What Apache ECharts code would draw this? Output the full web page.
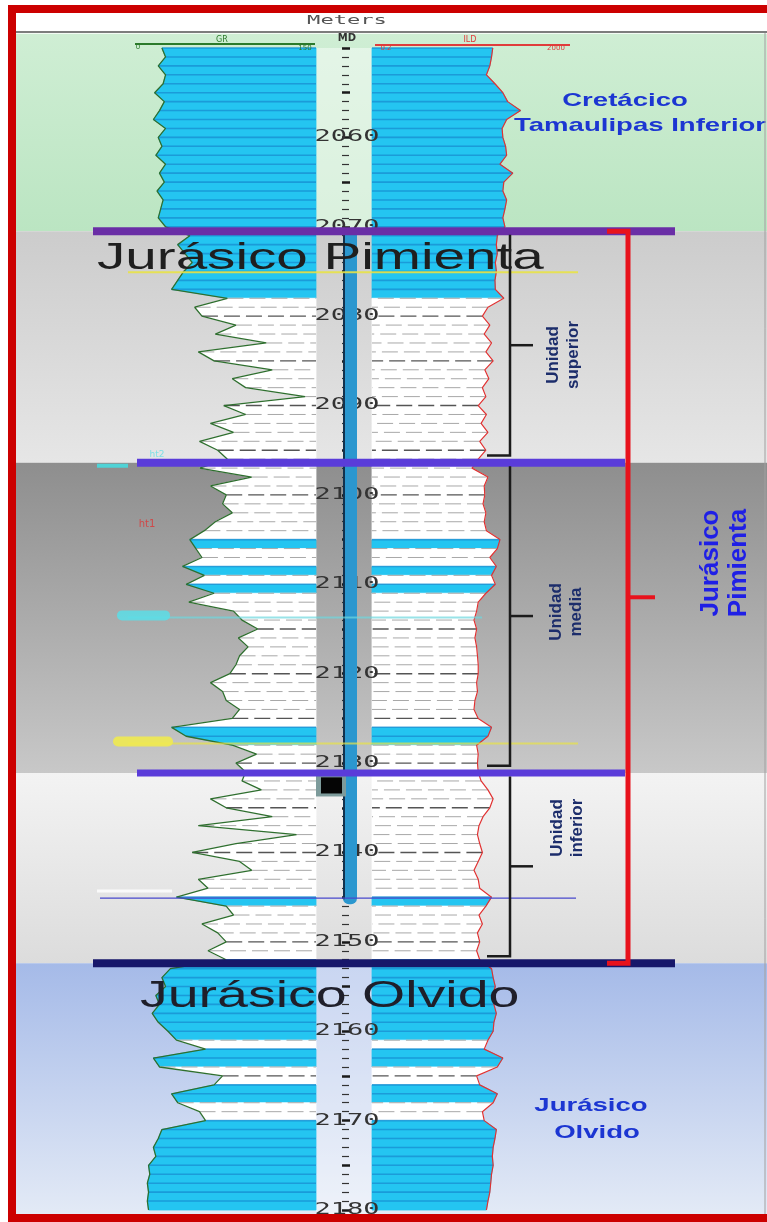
<!DOCTYPE html>
<html>
<head>
<meta charset="utf-8">
<title>Jurásico Pimienta - registro de pozo</title>
<script src="https://cdn.jsdelivr.net/npm/echarts@6/dist/echarts.min.js"></script>
<style>
  html, body { margin: 0; padding: 0; background: #fff; }
  #main { width: 767px; height: 1222px; }
</style>
</head>
<body>
<div id="main"></div>
<script>
// profundidad (m MD), una muestra por metro desde depthTop
var depthTop = 2050;
var depthBottom = 2180;

// GR (API) 2050 ... 2180
var gr = [
  23, 26, 20, 26, 24, 17, 25, 21, 16, 26,
  20, 23, 18, 26, 21, 25, 19, 24, 22, 20,
  26, 46, 36, 42, 48, 41, 36, 31, 77, 50,
  56, 84, 67, 109, 53, 66, 114, 81, 92, 141,
  74, 92, 63, 82, 54, 69, 77, 54, 97, 63,
  76, 73, 81, 67, 58, 46, 51, 56, 40, 58,
  43, 66, 45, 82, 89, 102, 86, 94, 87, 84,
  79, 63, 73, 76, 87, 81, 31, 43, 81, 101,
  84, 92, 89, 105, 63, 76, 114, 53, 134, 84,
  48, 87, 97, 53, 61, 35, 76, 82, 56, 69,
  76, 61, 76, 30, 23, 26, 18, 21, 15, 20,
  28, 35, 59, 16, 21, 73, 66, 31, 36, 54,
  59, 23, 20, 16, 18, 12, 13, 11, 12, 11,
  12
];

// ILD (ohm.m) 2050 ... 2180
var ild = [
  55, 52, 48, 41, 61, 88, 110, 200, 105, 85,
  88, 100, 105, 77, 140, 92, 88, 105, 97, 88,
  97, 68, 65, 68, 62, 65, 61, 62, 92, 44,
  34, 48, 37, 52, 40, 56, 38, 46, 34, 40,
  28, 41, 32, 44, 30, 40, 28, 21, 44, 37,
  38, 35, 40, 37, 41, 77, 68, 48, 65, 52,
  62, 40, 28, 26, 23, 26, 24, 26, 27, 28,
  28, 26, 27, 24, 23, 28, 52, 44, 26, 28,
  27, 28, 32, 44, 56, 48, 35, 29, 27, 30,
  34, 28, 23, 28, 30, 52, 40, 29, 34, 27,
  30, 26, 30, 52, 56, 62, 54, 58, 65, 58,
  56, 44, 37, 88, 68, 26, 30, 68, 56, 34,
  37, 65, 61, 56, 54, 56, 52, 50, 48, 44,
  41
];

// intervalos de caliza (relleno cian), el resto lutita (blanco)
var caliza = [
  [2050, 2078], [2105, 2106], [2108, 2109], [2110, 2111], [2126, 2128],
  [2145, 2146], [2152, 2161], [2162, 2164], [2166, 2168], [2170, 2180]
];

var formaciones = ['Cretácico Tamaulipas Inferior', 'Unidad superior', 'Unidad media', 'Unidad inferior', 'Jurásico Olvido'];
var formTop = [2048.4, 2070.5, 2096.4, 2131.1, 2152.4];
var formBase = [2070.5, 2096.4, 2131.1, 2152.4, 2180.5];

var unidades = ['Unidad\nsuperior', 'Unidad\nmedia', 'Unidad\ninferior'];
var unidadTop = [2070.5, 2096.4, 2131.1];
var unidadBase = [2096.4, 2131.1, 2152.4];

var topes = [2070.5, 2096.4, 2131.1, 2152.4];
var marcadores = [2075.1, 2113.7, 2127.8, 2144.3, 2145.1];
var nucleo = [2070.5, 2145.8];
var marcaNegra = [2131.6, 2133.4];
var depthLabels = [2060, 2070, 2080, 2090, 2100, 2110, 2120, 2130, 2140, 2150, 2160, 2170, 2180];

// ---- estilos / layout ----
var TOP = 48, H = 1162;
var trkGR = { left: 134, width: 182 };
var trkDepth = { left: 316, width: 56 };
var trkILD = { left: 372, width: 198 };
var CYAN = '#24c5f1';

var bandStyle = [
  ['#cfeed4', '#bbe5c2', 0.45],
  ['#cccccc', '#e6e6e6', 0],
  ['#8e8e8e', '#c8c8c8', 0],
  ['#f3f3f3', '#dcdcdc', 0],
  ['#a5bae8', '#e3eaf6', 0.4]
];
var topeStyle = [
  { x1: 93, x2: 675, color: '#6a2ea6', width: 8 },
  { x1: 137, x2: 625, color: '#5a3cd9', width: 8, pre: [97, 128, '#4fd3d6'] },
  { x1: 137, x2: 625, color: '#5a3cd9', width: 7 },
  { x1: 93, x2: 675, color: '#17176a', width: 8 }
];
var marcaStyle = [
  { x1: 128, x2: 578, color: 'rgba(232,226,70,0.9)', width: 2 },
  { x1: 128, x2: 482, color: 'rgba(110,215,222,0.7)', width: 2, blob: [122, 165, 'rgba(90,222,232,0.85)'] },
  { x1: 128, x2: 578, color: 'rgba(232,226,70,0.7)', width: 2, blob: [118, 168, 'rgba(240,234,80,0.9)'] },
  { x1: 97, x2: 172, color: 'rgba(252,252,252,0.9)', width: 3 },
  { x1: 100, x2: 576, color: '#4848cc', width: 1.2 }
];
var unidadPos = [[563, 355], [566, 612], [567, 828]];

var depth = gr.map(function (v, i) { return depthTop + i; });

function esCaliza(d) {
  for (var k = 0; k < caliza.length; k++) {
    if (d >= caliza[k][0] && d <= caliza[k][1]) return 1;
  }
  return 0;
}

function tramos(vals) {
  var out = [];
  for (var i = 0; i < vals.length - 1; i++) {
    out.push([depth[i], vals[i], depth[i + 1], vals[i + 1], esCaliza(depth[i] + 0.5)]);
  }
  return out;
}

// texto compatible (align / textAlign)
function ts(o) {
  if (o.align) o.textAlign = o.align;
  if (o.verticalAlign) o.textVerticalAlign = o.verticalAlign;
  if (o.fill) o.textFill = o.fill;
  return o;
}

function yOf(api, d) { return api.coord([0, d])[1]; }

function renderBand(params, api) {
  var cs = params.coordSys;
  var st = bandStyle[api.value(2)];
  var y0 = yOf(api, api.value(0)), y1 = yOf(api, api.value(1));
  var kids = [{
    type: 'rect',
    shape: { x: cs.x, y: y0, width: cs.width, height: y1 - y0 },
    style: { fill: { type: 'linear', x: 0, y: 0, x2: 0, y2: 1, colorStops: [{ offset: 0, color: st[0] }, { offset: 1, color: st[1] }] } }
  }];
  if (st[2]) {
    kids.push({
      type: 'rect',
      shape: { x: trkDepth.left, y: Math.max(y0, TOP), width: trkDepth.width, height: y1 - Math.max(y0, TOP) },
      style: { fill: 'rgba(255,255,255,' + st[2] + ')' }
    });
  }
  return { type: 'group', children: kids };
}

function makeFill(edgeRight) {
  return function (params, api) {
    var cs = params.coordSys;
    var p0 = api.coord([api.value(1), api.value(0)]);
    var p1 = api.coord([api.value(3), api.value(2)]);
    var ex = edgeRight ? cs.x + cs.width : cs.x;
    var lime = api.value(4) === 1;
    var col = lime ? CYAN : '#ffffff';
    var d0 = api.value(0);
    var kids = [{
      type: 'polygon',
      shape: { points: [p0, p1, [ex, p1[1]], [ex, p0[1]]] },
      style: { fill: col, stroke: col, lineWidth: 0.8 }
    }];
    kids.push({
      type: 'line',
      shape: { x1: p0[0], y1: p0[1], x2: ex, y2: p0[1] },
      style: lime
        ? { stroke: 'rgba(18,120,196,0.55)', lineWidth: 1.6 }
        : { stroke: d0 % 5 === 0 ? '#555' : '#a8a8a8', lineWidth: d0 % 5 === 0 ? 1.4 : 1, lineDash: [16, 6] }
    });
    return { type: 'group', children: kids };
  };
}

function renderDepthLabel(params, api) {
  var cs = params.coordSys;
  var d = api.value(0);
  return {
    type: 'text',
    x: cs.x + 31, y: yOf(api, d), scaleX: 1.8,
    style: ts({ text: String(d), font: '15px "DejaVu Sans Mono"', fill: '#333333', align: 'center', verticalAlign: 'middle' })
  };
}

function renderNucleo(params, api) {
  var cs = params.coordSys;
  var y0 = yOf(api, api.value(0)), y1 = yOf(api, api.value(1));
  var x = cs.x + 27, w = 14;
  return {
    type: 'group', children: [
      { type: 'rect', shape: { x: x, y: y0, width: w, height: y1 - y0, r: [0, 0, 6, 6] }, style: { fill: '#2b97cf' } },
      { type: 'line', shape: { x1: x + 1, y1: y0, x2: x + 1, y2: y1 - 5 }, style: { stroke: '#12324e', lineWidth: 2 } }
    ]
  };
}

function renderMarcaNegra(params, api) {
  var cs = params.coordSys;
  var y0 = yOf(api, api.value(0)), y1 = yOf(api, api.value(1));
  return {
    type: 'group', children: [
      { type: 'rect', shape: { x: cs.x, y: y0 - 3, width: 30, height: y1 - y0 + 6 }, style: { fill: '#7d9b9b' } },
      { type: 'rect', shape: { x: cs.x + 5, y: y0, width: 21, height: y1 - y0 }, style: { fill: '#050505' } }
    ]
  };
}

function renderMarcador(params, api) {
  var st = marcaStyle[params.dataIndex];
  var y = yOf(api, api.value(0));
  var kids = [{ type: 'line', shape: { x1: st.x1, y1: y, x2: st.x2, y2: y }, style: { stroke: st.color, lineWidth: st.width } }];
  if (st.blob) {
    kids.push({ type: 'line', shape: { x1: st.blob[0], y1: y - 2, x2: st.blob[1], y2: y - 2 }, style: { stroke: st.blob[2], lineWidth: 10, lineCap: 'round' } });
  }
  return { type: 'group', children: kids };
}

function renderTope(params, api) {
  var st = topeStyle[params.dataIndex];
  var y = yOf(api, api.value(0));
  var kids = [{ type: 'line', shape: { x1: st.x1, y1: y, x2: st.x2, y2: y }, style: { stroke: st.color, lineWidth: st.width } }];
  if (st.pre) {
    kids.push({ type: 'line', shape: { x1: st.pre[0], y1: y + 3, x2: st.pre[1], y2: y + 3 }, style: { stroke: st.pre[2], lineWidth: 4 } });
  }
  return { type: 'group', children: kids };
}

function renderLlave(params, api) {
  var y0 = yOf(api, api.value(0) + 0.4), y1 = yOf(api, api.value(1) - 0.8);
  var ym = (y0 + y1) / 2, x = 510;
  var s = { stroke: '#1b1b1b', lineWidth: 2.5, fill: 'none' };
  return {
    type: 'group', children: [
      { type: 'polyline', shape: { points: [[x, y0], [x, y1], [x - 23, y1]] }, style: s },
      { type: 'line', shape: { x1: x, y1: ym, x2: x + 23, y2: ym }, style: { stroke: '#1b1b1b', lineWidth: 2.5 } }
    ]
  };
}

function renderLlaveRoja(params, api) {
  var y0 = yOf(api, api.value(0)), y1 = yOf(api, api.value(1));
  var ym = (y0 + y1) / 2, x = 628;
  return {
    type: 'group', children: [
      { type: 'polyline', shape: { points: [[x - 21, y0], [x, y0], [x, y1], [x - 21, y1]] }, style: { stroke: '#e8121c', lineWidth: 5, fill: 'none' } },
      { type: 'line', shape: { x1: x, y1: ym, x2: x + 27, y2: ym }, style: { stroke: '#e8121c', lineWidth: 4 } }
    ]
  };
}

function mkY(gi, extra) {
  var y = { gridIndex: gi, type: 'value', inverse: true, min: depthTop, max: depthBottom, show: false };
  return Object.assign(y, extra || {});
}

var chart = echarts.init(document.getElementById('main'));

var textos = [
  // cabecera
  { type: 'rect', shape: { x: 16, y: 13, width: 751, height: 19 }, style: { fill: '#ffffff' }, z: 100 },
  { type: 'line', shape: { x1: 16, y1: 32, x2: 767, y2: 32 }, style: { stroke: '#7d7d7d', lineWidth: 2 }, z: 100 },
  { type: 'text', x: 347, y: 21, scaleX: 1.7, style: ts({ text: 'Meters', font: '13px "DejaVu Sans Mono"', fill: '#555', align: 'center', verticalAlign: 'middle' }), z: 101 },
  { type: 'text', x: 347, y: 38, style: ts({ text: 'MD', font: 'bold 10px "DejaVu Sans"', fill: '#333', align: 'center', verticalAlign: 'middle' }), z: 101 },
  { type: 'line', shape: { x1: 135, y1: 44, x2: 315, y2: 44 }, style: { stroke: '#2b7a2b', lineWidth: 2 }, z: 101 },
  { type: 'line', shape: { x1: 375, y1: 45, x2: 570, y2: 45 }, style: { stroke: '#e03c3c', lineWidth: 2 }, z: 101 },
  { type: 'text', x: 222, y: 40, style: ts({ text: 'GR', font: '8px "DejaVu Sans"', fill: '#2b7a2b', align: 'center', verticalAlign: 'middle' }), z: 101 },
  { type: 'text', x: 138, y: 47, style: ts({ text: '0', font: '7px "DejaVu Sans"', fill: '#2b7a2b', align: 'center', verticalAlign: 'middle' }), z: 101 },
  { type: 'text', x: 305, y: 48, style: ts({ text: '150', font: '7px "DejaVu Sans"', fill: '#2b7a2b', align: 'center', verticalAlign: 'middle' }), z: 101 },
  { type: 'text', x: 470, y: 40, style: ts({ text: 'ILD', font: '8px "DejaVu Sans"', fill: '#e03c3c', align: 'center', verticalAlign: 'middle' }), z: 101 },
  { type: 'text', x: 386, y: 48, style: ts({ text: '0.2', font: '7px "DejaVu Sans"', fill: '#e03c3c', align: 'center', verticalAlign: 'middle' }), z: 101 },
  { type: 'text', x: 556, y: 48, style: ts({ text: '2000', font: '7px "DejaVu Sans"', fill: '#e03c3c', align: 'center', verticalAlign: 'middle' }), z: 101 },
  // nombres grandes
  { type: 'text', x: 97, y: 259, scaleX: 1.53, style: ts({ text: 'Jurásico Pimienta', font: '37px "Liberation Sans"', fill: '#1f1f1f', align: 'left', verticalAlign: 'middle' }), z: 60 },
  { type: 'text', x: 140, y: 997, scaleX: 1.5, style: ts({ text: 'Jurásico Olvido', font: '37px "Liberation Sans"', fill: '#1f1f2a', align: 'left', verticalAlign: 'middle' }), z: 60 },
  // formaciones
  { type: 'text', x: 625, y: 101, scaleX: 1.45, style: ts({ text: 'Cretácico', font: 'bold 19px "Liberation Sans"', fill: '#1c36d2', align: 'center', verticalAlign: 'middle' }), z: 60 },
  { type: 'text', x: 514, y: 126, scaleX: 1.45, style: ts({ text: 'Tamaulipas Inferior', font: 'bold 19px "Liberation Sans"', fill: '#1c36d2', align: 'left', verticalAlign: 'middle' }), z: 60 },
  { type: 'text', x: 591, y: 1106, scaleX: 1.45, style: ts({ text: 'Jurásico', font: 'bold 19px "Liberation Sans"', fill: '#1c36d2', align: 'center', verticalAlign: 'middle' }), z: 60 },
  { type: 'text', x: 597, y: 1133, scaleX: 1.45, style: ts({ text: 'Olvido', font: 'bold 19px "Liberation Sans"', fill: '#1c36d2', align: 'center', verticalAlign: 'middle' }), z: 60 },
  { type: 'text', x: 725, y: 563, rotation: Math.PI / 2, style: ts({ text: 'Jurásico\nPimienta', font: 'bold 26px "Liberation Sans"', fill: '#1f1fe6', align: 'center', verticalAlign: 'middle', lineHeight: 28 }), z: 60 },
  { type: 'text', x: 147, y: 524, style: ts({ text: 'ht1', font: '10px "DejaVu Sans"', fill: '#d04848', align: 'center', verticalAlign: 'middle' }), z: 60 },
  { type: 'text', x: 157, y: 455, style: ts({ text: 'ht2', font: '9px "DejaVu Sans"', fill: '#7fe0e6', align: 'center', verticalAlign: 'middle' }), z: 60 },
  // borde
  { type: 'line', shape: { x1: 765, y1: 33, x2: 765, y2: 1214 }, style: { stroke: '#a0a0a0', lineWidth: 1 }, z: 100 },
  { type: 'rect', shape: { x: 12, y: 9, width: 800, height: 1209 }, style: { fill: 'none', stroke: '#cc0000', lineWidth: 8 }, z: 200 }
];
unidades.forEach(function (u, i) {
  textos.push({
    type: 'text', x: unidadPos[i][0], y: unidadPos[i][1], rotation: Math.PI / 2,
    style: ts({ text: u, font: 'bold 17px "Liberation Sans Narrow", "Liberation Sans"', fill: '#1c2d6b', align: 'center', verticalAlign: 'middle', lineHeight: 20 }),
    z: 60
  });
});

var option = {
  animation: false,
  backgroundColor: '#ffffff',
  grid: [
    { left: trkGR.left, width: trkGR.width, top: TOP, height: H },
    { left: trkDepth.left, width: trkDepth.width, top: TOP, height: H },
    { left: trkILD.left, width: trkILD.width, top: TOP, height: H },
    { left: 16, right: 0, top: TOP, height: H }
  ],
  xAxis: [
    { gridIndex: 0, type: 'value', min: 0, max: 150, show: false },
    { gridIndex: 1, type: 'value', min: 0, max: 1, show: false },
    { gridIndex: 2, type: 'log', min: 0.2, max: 2000, show: false },
    { gridIndex: 3, type: 'value', min: 0, max: 1, show: false }
  ],
  yAxis: [
    mkY(0),
    mkY(1, {
      show: true, position: 'left', offset: -26, interval: 5, z: 3,
      axisLine: { show: false },
      axisTick: { show: true, inside: true, length: 8, lineStyle: { color: '#1a1a1a', width: 2.5 } },
      minorTick: { show: true, splitNumber: 5, length: 7, lineStyle: { color: '#333', width: 1.2 } },
      axisLabel: { show: false },
      splitLine: { show: false }
    }),
    mkY(2),
    mkY(3)
  ],
  graphic: textos,
  series: [
    {
      type: 'custom', name: 'formaciones', xAxisIndex: 3, yAxisIndex: 3, z: 1, silent: true,
      data: formaciones.map(function (f, i) { return [formTop[i], formBase[i], i]; }),
      renderItem: renderBand
    },
    {
      type: 'custom', name: 'relleno GR', xAxisIndex: 0, yAxisIndex: 0, z: 3, silent: true,
      data: tramos(gr), renderItem: makeFill(true)
    },
    {
      type: 'custom', name: 'relleno ILD', xAxisIndex: 2, yAxisIndex: 2, z: 3, silent: true,
      data: tramos(ild), renderItem: makeFill(false)
    },
    {
      type: 'line', name: 'GR', xAxisIndex: 0, yAxisIndex: 0, z: 4, symbol: 'none', silent: true,
      data: gr.map(function (v, i) { return [v, depth[i]]; }),
      lineStyle: { color: '#2f6f2f', width: 1.3 }
    },
    {
      type: 'line', name: 'ILD', xAxisIndex: 2, yAxisIndex: 2, z: 4, symbol: 'none', silent: true,
      data: ild.map(function (v, i) { return [v, depth[i]]; }),
      lineStyle: { color: '#e03232', width: 1.2 }
    },
    {
      type: 'custom', name: 'profundidad', xAxisIndex: 1, yAxisIndex: 1, z: 4, silent: true,
      data: depthLabels.map(function (d) { return [d]; }), renderItem: renderDepthLabel
    },
    {
      type: 'custom', name: 'nucleo', xAxisIndex: 1, yAxisIndex: 1, z: 5, silent: true,
      data: [nucleo], renderItem: renderNucleo
    },
    {
      type: 'custom', name: 'marca', xAxisIndex: 1, yAxisIndex: 1, z: 5, silent: true,
      data: [marcaNegra], renderItem: renderMarcaNegra
    },
    {
      type: 'custom', name: 'marcadores', xAxisIndex: 3, yAxisIndex: 3, z: 6, silent: true,
      data: marcadores.map(function (d) { return [d]; }), renderItem: renderMarcador
    },
    {
      type: 'custom', name: 'topes', xAxisIndex: 3, yAxisIndex: 3, z: 7, silent: true,
      data: topes.map(function (d) { return [d]; }), renderItem: renderTope
    },
    {
      type: 'custom', name: 'unidades', xAxisIndex: 3, yAxisIndex: 3, z: 7, silent: true,
      data: unidades.map(function (u, i) { return [unidadTop[i], unidadBase[i], i]; }), renderItem: renderLlave
    },
    {
      type: 'custom', name: 'Jurásico Pimienta', xAxisIndex: 3, yAxisIndex: 3, z: 7, silent: true,
      data: [[unidadTop[0], unidadBase[2]]], renderItem: renderLlaveRoja
    }
  ]
};

chart.setOption(option);
</script>
</body>
</html>
